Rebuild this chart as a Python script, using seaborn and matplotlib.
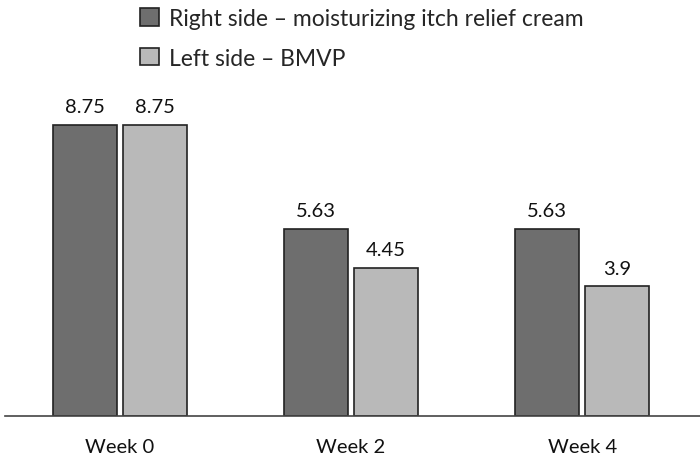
import pandas as pd
import matplotlib.pyplot as plt
import seaborn as sns

# data
weeks = ['Week 0', 'Week 2', 'Week 4']
right_side = [8.75, 5.63, 5.63]
left_side = [8.75, 4.45, 3.9]
series_names = ['Right side \u2013 moisturizing itch relief cream', 'Left side \u2013 BMVP']

df = pd.DataFrame({
    'Week': weeks * 2,
    'Score': right_side + left_side,
    'Side': [series_names[0]] * 3 + [series_names[1]] * 3,
})

sns.set_style('white')
plt.rcParams['font.family'] = ['Lato', 'DejaVu Sans']

fig = plt.figure(figsize=(7, 4.56), dpi=100)
ax = fig.add_axes([5 / 700, 39 / 456, 695 / 700, 417 / 456])

sns.barplot(data=df, x='Week', y='Score', hue='Side', ax=ax,
            palette=['#6e6e6e', '#b9b9b9'], width=0.606, gap=0.086,
            edgecolor='#222222', linewidth=1.2, legend=True)

for c in ax.containers:
    ax.bar_label(c, labels=[f'{v:g}' for v in c.datavalues], padding=7, fontsize=14.5, color='#111111')

ax.set_xlim(-0.498, 2.51)
ax.set_ylim(0, 12.54)
ax.set_xlabel('')
ax.set_ylabel('')
ax.set_yticks([])
ax.tick_params(axis='x', length=0, pad=16, labelsize=14.5, labelcolor='#111111')
for s in ['top', 'right', 'left']:
    ax.spines[s].set_visible(False)
ax.spines['bottom'].set_color('#444444')
ax.spines['bottom'].set_linewidth(1.2)

handles, labels = ax.get_legend_handles_labels()
ax.get_legend().remove()
fig.legend(handles, labels, loc='upper left', bbox_to_anchor=(131 / 700, 1.0),
           frameon=False, fontsize=16.5, handlelength=0.8, handleheight=0.8,
           handletextpad=0.45, labelspacing=0.8, borderaxespad=0)

plt.savefig('out.png', dpi=100)
